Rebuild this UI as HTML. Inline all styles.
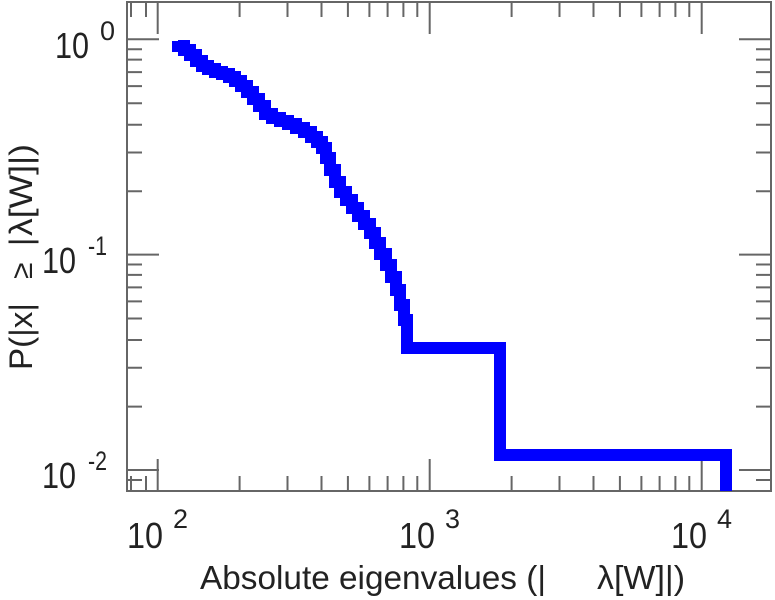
<!DOCTYPE html>
<html><head><style>
body{margin:0;background:#fff;}
svg{display:block;font-family:"Liberation Sans",sans-serif;}
</style></head><body>
<svg width="775" height="600" viewBox="0 0 775 600">
<g stroke="#666" stroke-width="2" fill="none">
<rect x="127" y="2" width="644" height="489"/>
<path d="M157.7 491v-32M429.7 491v-32M701.7 491v-32M157.7 2v32M429.7 2v32M701.7 2v32"/>
<path d="M131 491v-15M146 491v-15M239.6 491v-15M287.5 491v-15M321.5 491v-15M347.9 491v-15M369.4 491v-15M387.6 491v-15M403.4 491v-15M417.3 491v-15M511.6 491v-15M559.5 491v-15M593.5 491v-15M619.9 491v-15M641.4 491v-15M659.6 491v-15M675.4 491v-15M689.3 491v-15
M131 2v15M146 2v15M239.6 2v15M287.5 2v15M321.5 2v15M347.9 2v15M369.4 2v15M387.6 2v15M403.4 2v15M417.3 2v15M511.6 2v15M559.5 2v15M593.5 2v15M619.9 2v15M641.4 2v15M659.6 2v15M675.4 2v15M689.3 2v15"/>
<path d="M127 39.3h32M127 254.6h32M127 470h32M771 39.3h-32M771 254.6h-32M771 470h-32"/>
<path d="M127 49.2h15M127 59.6h15M127 72.1h15M127 86.1h15M127 103.2h15M127 124.7h15M127 152.5h15M127 191.3h15
M127 264.5h15M127 274.9h15M127 287.4h15M127 301.4h15M127 318.5h15M127 340h15M127 367.8h15M127 406.6h15M127 480h15
M771 49.2h-15M771 59.6h-15M771 72.1h-15M771 86.1h-15M771 103.2h-15M771 124.7h-15M771 152.5h-15M771 191.3h-15
M771 264.5h-15M771 274.9h-15M771 287.4h-15M771 301.4h-15M771 318.5h-15M771 340h-15M771 367.8h-15M771 406.6h-15M771 480h-15"/>
</g>
<path fill="none" stroke="#0000ff" stroke-width="12" stroke-linejoin="miter"
d="M178 41V46H184V50H190V55H196V61H202V66H208V69H215V72H222V74H229V77H235V81H241V86H247V92H253V99H259V106H265V114H272V118H280V121H288V124H296V128H304V132H311V137H317V142H322V148H326V158H330V170H335V182H340V192H346V200H352V208H358V216H364V224H370V233H375V243H380V254H386V265H391V277H396V290H400V305H404V320H407V348H500V455H726V491"/>
<g fill="#222">
<text x="127" y="548" font-size="36" textLength="36" lengthAdjust="spacingAndGlyphs">10</text>
<text x="173" y="528" font-size="27">2</text>
<text x="399" y="548" font-size="36" textLength="36" lengthAdjust="spacingAndGlyphs">10</text>
<text x="445" y="528" font-size="27">3</text>
<text x="671" y="548" font-size="36" textLength="36" lengthAdjust="spacingAndGlyphs">10</text>
<text x="717" y="528" font-size="27">4</text>
<text x="55" y="58" font-size="36" textLength="34" lengthAdjust="spacingAndGlyphs">10</text>
<text x="100" y="40" font-size="27">0</text>
<text x="42" y="273" font-size="36" textLength="34" lengthAdjust="spacingAndGlyphs">10</text>
<text x="88" y="255" font-size="27" textLength="19" lengthAdjust="spacingAndGlyphs">-1</text>
<text x="42" y="488" font-size="36" textLength="34" lengthAdjust="spacingAndGlyphs">10</text>
<text x="88" y="470" font-size="27" textLength="19" lengthAdjust="spacingAndGlyphs">-2</text>
<text x="200" y="589" font-size="33" textLength="346" lengthAdjust="spacingAndGlyphs">Absolute eigenvalues (|</text>
<text x="597" y="589" font-size="33" textLength="88" lengthAdjust="spacingAndGlyphs">λ[W]|)</text>
<g transform="translate(32,370) rotate(-90)">
<text x="0" y="0" font-size="32" textLength="67" lengthAdjust="spacingAndGlyphs">P(|x|</text>
<text x="91" y="0" font-size="30">≥</text>
<text x="124" y="0" font-size="32">|</text>
<text x="134" y="0" font-size="32" textLength="92" lengthAdjust="spacingAndGlyphs">λ[W]|)</text>
</g>
</g>
</svg>
</body></html>
